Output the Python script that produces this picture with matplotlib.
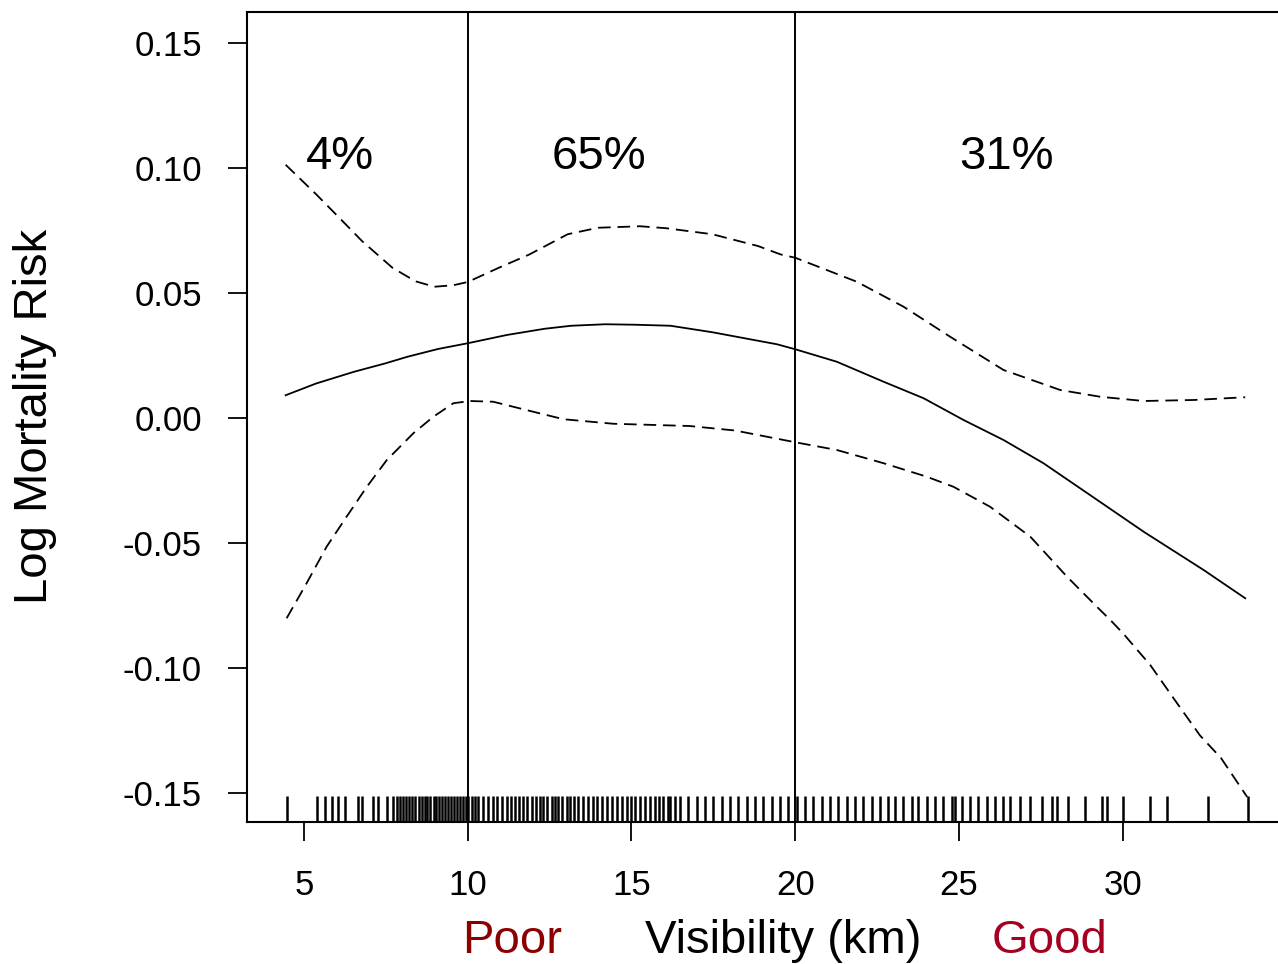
import matplotlib
matplotlib.use("Agg")
import matplotlib.pyplot as plt
import matplotlib.transforms as mtransforms

plt.rcParams['font.family'] = ['Liberation Sans', 'DejaVu Sans']

# Smooth fit (log mortality risk vs visibility)
x_fit = [4.44, 5.37, 6.53, 7.47, 8.16, 9.09, 10.0, 11.19, 12.35, 13.16, 14.2, 15.14,
         16.19, 17.47, 18.74, 19.44, 20.0, 21.27, 22.7, 23.92, 25.14, 26.36, 27.58,
         29.0, 30.64, 32.47, 33.74]
fit = [0.0091, 0.0138, 0.0185, 0.0218, 0.0245, 0.0276, 0.0299, 0.0332, 0.0357, 0.0369,
       0.0375, 0.0373, 0.0369, 0.0343, 0.0312, 0.0295, 0.0275, 0.0225, 0.0145, 0.0079,
       -0.0008, -0.0088, -0.0181, -0.0308, -0.0455, -0.0608, -0.0721]

# Upper confidence band
x_up = [4.44, 5.37, 6.07, 6.77, 7.7, 8.4, 8.98, 9.56, 10.0, 10.95, 11.88, 13.05, 13.98,
        15.26, 16.07, 17.47, 18.86, 19.56, 20.0, 21.88, 23.31, 24.73, 26.36, 28.09,
        29.31, 30.64, 32.16, 33.74]
upper = [0.1013, 0.0895, 0.0802, 0.0708, 0.0601, 0.0547, 0.0525, 0.0531, 0.0544, 0.0601,
         0.0654, 0.0735, 0.0761, 0.0767, 0.0759, 0.0735, 0.0688, 0.0654, 0.0641, 0.0545,
         0.0445, 0.0325, 0.0192, 0.0112, 0.0085, 0.0068, 0.0072, 0.0083]

# Lower confidence band
x_lo = [4.47, 5.08, 5.69, 6.30, 6.92, 7.53, 8.34, 8.95, 9.56, 10.07, 10.78, 12.0, 12.93,
        14.44, 16.77, 18.16, 20.0, 21.27, 22.7, 24.02, 24.83, 25.95, 27.18, 28.3, 29.21,
        29.62, 30.0, 30.84, 31.6, 32.36, 33.0, 33.8]
lower = [-0.0801, -0.0661, -0.0515, -0.0395, -0.0275, -0.0168, -0.0061, 0.0005, 0.0059,
         0.0068, 0.0065, 0.0025, -0.0005, -0.0023, -0.0032, -0.005, -0.0097, -0.0128,
         -0.0181, -0.0235, -0.0275, -0.0355, -0.0475, -0.0635, -0.0755, -0.0808, -0.086,
         -0.0988, -0.113, -0.127, -0.136, -0.1516]

# Rug of observed visibility values (km)
rug = [4.49, 5.39, 5.64, 5.85, 6.05, 6.25, 6.66, 6.76, 7.12, 7.27, 7.53, 7.73, 7.83, 7.93,
       8.03, 8.12, 8.22, 8.30, 8.38, 8.50, 8.60, 8.68, 8.76, 8.86, 8.96, 9.02, 9.12, 9.20,
       9.30, 9.40, 9.50, 9.58, 9.66, 9.76, 9.86, 9.95, 10.02, 10.12, 10.22, 10.32, 10.47,
       10.63, 10.76, 10.88, 11.04, 11.19, 11.31, 11.44, 11.58, 11.70, 11.82, 11.95, 12.08,
       12.21, 12.31, 12.43, 12.56, 12.66, 12.77, 12.87, 13.02, 13.12, 13.24, 13.38, 13.53,
       13.68, 13.82, 13.94, 14.09, 14.24, 14.40, 14.55, 14.70, 14.85, 14.98, 15.11, 15.26,
       15.41, 15.56, 15.72, 15.85, 15.97, 16.12, 16.18, 16.33, 16.48, 16.73, 16.99, 17.24,
       17.50, 17.75, 18.01, 18.26, 18.52, 18.77, 19.02, 19.28, 19.53, 19.79, 20.04, 20.30,
       20.55, 20.81, 21.06, 21.32, 21.57, 21.82, 22.08, 22.33, 22.59, 22.84, 23.05, 23.30,
       23.56, 23.76, 24.01, 24.27, 24.52, 24.78, 24.88, 25.08, 25.34, 25.59, 25.85, 26.10,
       26.35, 26.56, 26.86, 27.17, 27.53, 27.83, 27.98, 28.34, 28.85, 29.36, 29.51, 30.02,
       30.84, 31.34, 32.61, 33.83]

cutoffs = [10, 20]
pct_labels = ['4%', '65%', '31%']
pct_x = [6.1, 14.0, 26.45]
pct_y = 0.0995

x_ticks = [5, 10, 15, 20, 25, 30]
y_ticks = [-0.15, -0.10, -0.05, 0.00, 0.05, 0.10, 0.15]
y_ticklabels = ['-0.15', '-0.10', '-0.05', '0.00', '0.05', '0.10', '0.15']

W, H = 1278, 964
fig = plt.figure(figsize=(W / 100, H / 100), dpi=100)
ax = fig.add_axes([247 / W, 1 - 822 / H, (1286 - 247) / W, (822 - 12) / H])
ax.set_xlim(3.26, 34.985)
ax.set_ylim(-0.1616, 0.1624)

ax.plot(x_fit, fit, color='black', lw=1.3)
dash = (0, (7.0, 3.8))
ax.plot(x_up, upper, color='black', lw=1.3, linestyle=dash)
ax.plot(x_lo, lower, color='black', lw=1.3, linestyle=dash)
for c in cutoffs:
    ax.axvline(c, color='black', lw=1.4)

trans = mtransforms.blended_transform_factory(ax.transData, ax.transAxes)
ax.vlines(rug, 0, 26 / 810, transform=trans, color='black', lw=1.8)

for lab, xx in zip(pct_labels, pct_x):
    ax.text(xx, pct_y, lab, ha='center', va='baseline', fontsize=34)

for s in ax.spines.values():
    s.set_linewidth(1.5)

ax.set_xticks(x_ticks)
ax.set_xticklabels([str(v) for v in x_ticks])
ax.set_yticks(y_ticks)
ax.set_yticklabels(y_ticklabels)
ax.tick_params(axis='both', direction='out', length=13.5, width=1.3, labelsize=25)
ax.tick_params(axis='x', pad=20)
ax.tick_params(axis='y', pad=19)

fig.text(35 / W, 1 - 416 / H, 'Log Mortality Risk', rotation=90, ha='center',
         va='center', fontsize=34)
fig.text(783 / W, 1 - 953 / H, 'Visibility (km)', ha='center', va='baseline', fontsize=34)
fig.text(512 / W, 1 - 953 / H, 'Poor', ha='center', va='baseline', fontsize=34,
         color='#8B0000')
fig.text(1050 / W, 1 - 953 / H, 'Good', ha='center', va='baseline', fontsize=34,
         color='#A50021')

fig.savefig('out.png', dpi=100)
